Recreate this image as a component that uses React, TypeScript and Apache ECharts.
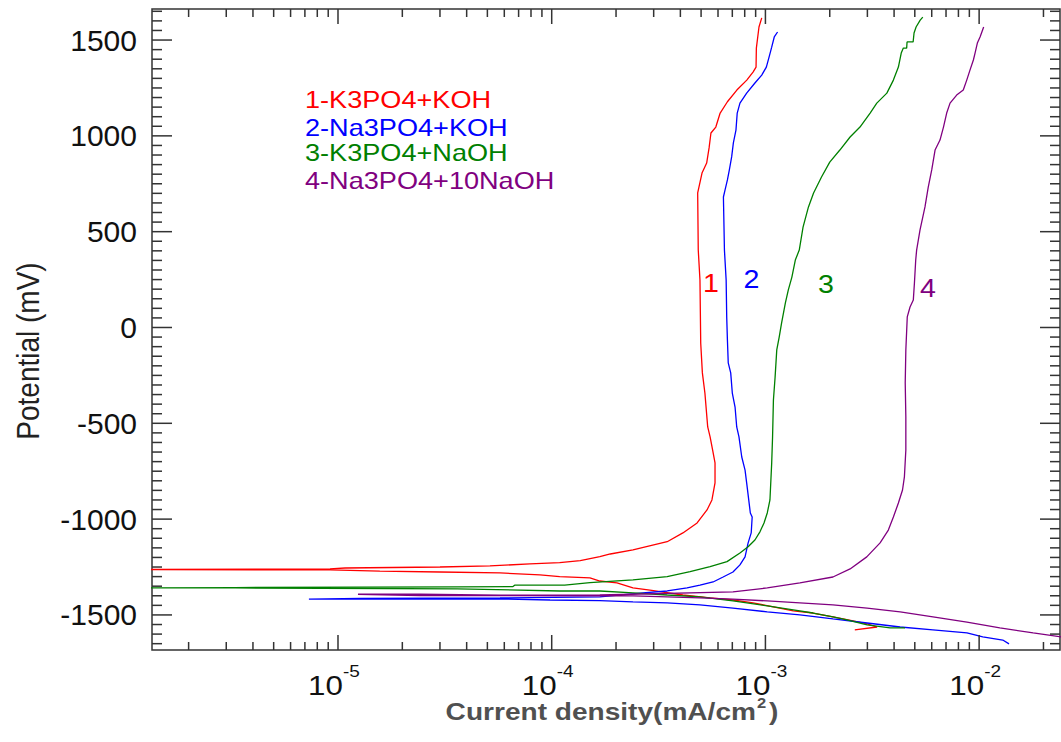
import React, { useEffect, useRef } from "react";
import * as echarts from "echarts";

type Pt = [number, number];

// [current density (mA/cm2), potential (mV)] in scan order
const curve1: Pt[] = [
  [2.62e-3, -1578], [3.33e-3, -1563], [2.99e-3, -1547], [2.57e-3, -1531], [2.07e-3, -1510],
  [1.67e-3, -1490], [1.35e-3, -1479], [1.09e-3, -1458], [8.75e-4, -1437], [7.05e-4, -1422],
  [5.51e-4, -1411], [4.11e-4, -1396], [2.88e-4, -1370], [2.4e-4, -1359], [2.02e-4, -1333],
  [1.68e-4, -1323], [1.51e-4, -1307], [1.09e-4, -1300], [8.81e-5, -1291], [5.73e-5, -1281],
  [3.0e-5, -1276], [1.57e-5, -1271], [9.18e-6, -1265], [1.3e-6, -1263], [9.18e-6, -1260],
  [1.08e-5, -1255], [3.0e-5, -1250], [5.14e-5, -1244], [7.91e-5, -1234], [1.09e-4, -1227],
  [1.36e-4, -1217], [1.68e-4, -1196], [1.88e-4, -1182], [2.4e-4, -1161], [3.47e-4, -1118],
  [4.11e-4, -1072], [4.79e-4, -1020], [5.33e-4, -952], [5.62e-4, -900], [5.81e-4, -811],
  [5.81e-4, -707], [5.66e-4, -639], [5.51e-4, -571], [5.37e-4, -519], [5.21e-4, -342],
  [5.07e-4, -237], [4.98e-4, -81], [4.94e-4, 248], [4.85e-4, 404], [4.82e-4, 702],
  [5.05e-4, 806], [5.31e-4, 858], [5.45e-4, 937], [5.56e-4, 1015], [5.86e-4, 1046],
  [6.14e-4, 1119], [6.64e-4, 1178], [7.35e-4, 1239], [8.18e-4, 1291], [8.75e-4, 1333],
  [9.04e-4, 1359], [9.07e-4, 1458], [9.33e-4, 1568], [9.61e-4, 1616],
];

const curve2: Pt[] = [
  [1.38e-2, -1651], [1.29e-2, -1631], [1.04e-2, -1615], [8.77e-3, -1594], [6.08e-3, -1578],
  [4.27e-3, -1563], [2.99e-3, -1542], [2.07e-3, -1521], [1.45e-3, -1500], [1.02e-3, -1484],
  [7.05e-4, -1464], [4.94e-4, -1448], [3.47e-4, -1437], [2.4e-4, -1432], [1.68e-4, -1425],
  [9.82e-5, -1422], [5.73e-5, -1417], [1.95e-5, -1417], [7.31e-6, -1417], [1.27e-5, -1414],
  [5.73e-5, -1411], [1.68e-4, -1406], [2.67e-4, -1385], [3.47e-4, -1375], [4.3e-4, -1359],
  [4.94e-4, -1344], [5.69e-4, -1328], [6.34e-4, -1302], [7.05e-4, -1276], [7.6e-4, -1239],
  [8.03e-4, -1197], [8.3e-4, -1124], [8.58e-4, -1072], [8.67e-4, -989], [8.5e-4, -968],
  [8.17e-4, -811], [8.03e-4, -744], [7.75e-4, -676], [7.52e-4, -571], [7.34e-4, -519],
  [7.21e-4, -415], [7.0e-4, -342], [6.88e-4, -237], [6.7e-4, -185], [6.64e-4, -65],
  [6.59e-4, 55], [6.55e-4, 248], [6.43e-4, 404], [6.36e-4, 681], [6.47e-4, 717],
  [6.64e-4, 770], [6.78e-4, 822], [6.95e-4, 890], [7.08e-4, 963], [7.28e-4, 1030],
  [7.38e-4, 1119], [7.6e-4, 1171], [8.17e-4, 1223], [8.93e-4, 1276], [9.61e-4, 1317],
  [1.01e-3, 1359], [1.04e-3, 1411], [1.07e-3, 1463], [1.1e-3, 1516], [1.14e-3, 1542],
];

const curve3: Pt[] = [
  [4.5e-3, -1568], [3.83e-3, -1568], [2.99e-3, -1552], [2.41e-3, -1526], [2.07e-3, -1510],
  [1.67e-3, -1490], [1.35e-3, -1474], [1.02e-3, -1453], [7.05e-4, -1427], [4.94e-4, -1406],
  [3.47e-4, -1396], [2.4e-4, -1385], [1.68e-4, -1375], [1.09e-4, -1375], [3.61e-5, -1364],
  [3.3e-6, -1359], [1.3e-6, -1359], [3.3e-6, -1357], [3.61e-5, -1354], [6.59e-5, -1352],
  [6.73e-5, -1344], [1.15e-4, -1344], [1.51e-4, -1331], [2.4e-4, -1317], [3.47e-4, -1300],
  [4.44e-4, -1274], [5.51e-4, -1248], [6.61e-4, -1222], [7.6e-4, -1177], [8.3e-4, -1144],
  [8.93e-4, -1109], [9.44e-4, -1065], [9.85e-4, -1020], [1.02e-3, -968], [1.05e-3, -900],
  [1.07e-3, -707], [1.08e-3, -571], [1.09e-3, -378], [1.11e-3, -258], [1.13e-3, -117],
  [1.16e-3, -50], [1.19e-3, 23], [1.24e-3, 128], [1.28e-3, 196], [1.33e-3, 263],
  [1.38e-3, 352], [1.44e-3, 404], [1.5e-3, 524], [1.59e-3, 629], [1.68e-3, 702],
  [1.83e-3, 785], [2.0e-3, 863], [2.23e-3, 926], [2.49e-3, 994], [2.77e-3, 1046],
  [3.09e-3, 1119], [3.32e-3, 1171], [3.7e-3, 1223], [3.97e-3, 1291], [4.19e-3, 1359],
  [4.32e-3, 1432], [4.42e-3, 1458], [4.58e-3, 1458], [4.6e-3, 1490], [4.91e-3, 1490],
  [4.96e-3, 1537], [5.07e-3, 1568], [5.3e-3, 1604], [5.45e-3, 1620],
];

const curve4: Pt[] = [
  [2.42e-2, -1615], [1.79e-2, -1594], [1.25e-2, -1568], [8.77e-3, -1537], [6.08e-3, -1510],
  [4.27e-3, -1484], [2.99e-3, -1464], [2.07e-3, -1448], [1.45e-3, -1437], [1.02e-3, -1427],
  [7.05e-4, -1417], [4.94e-4, -1411], [3.47e-4, -1406], [2.4e-4, -1401], [1.68e-4, -1401],
  [5.73e-5, -1399], [2.42e-5, -1399], [1.24e-5, -1392], [2.42e-5, -1392], [5.73e-5, -1397],
  [1.68e-4, -1396], [7.05e-4, -1380], [1.02e-3, -1359], [1.45e-3, -1333], [2.07e-3, -1302],
  [2.49e-3, -1260], [2.98e-3, -1197], [3.44e-3, -1124], [3.76e-3, -1057], [3.97e-3, -989],
  [4.19e-3, -916], [4.38e-3, -848], [4.47e-3, -780], [4.54e-3, -639], [4.54e-3, -467],
  [4.51e-3, -290], [4.54e-3, -117], [4.61e-3, 55], [4.75e-3, 107], [4.92e-3, 143],
  [4.98e-3, 232], [5.05e-3, 352], [5.1e-3, 404], [5.29e-3, 509], [5.58e-3, 629],
  [5.78e-3, 733], [6.0e-3, 822], [6.22e-3, 926], [6.56e-3, 978], [6.81e-3, 1046],
  [7.05e-3, 1119], [7.31e-3, 1171], [7.85e-3, 1213], [8.43e-3, 1239], [8.75e-3, 1291],
  [9.06e-3, 1343], [9.4e-3, 1396], [9.57e-3, 1432], [9.81e-3, 1484], [1.01e-2, 1516],
  [1.03e-2, 1542], [1.05e-2, 1568],
];

const curves = [curve1, curve2, curve3, curve4];
const seriesNames = ["1-K3PO4+KOH", "2-Na3PO4+KOH", "3-K3PO4+NaOH", "4-Na3PO4+10NaOH"];
const seriesTags = ["1", "2", "3", "4"];
const seriesColors = ["#ff0000", "#0000ff", "#008000", "#800080"];

const xMajorTicks = [1e-5, 1e-4, 1e-3, 1e-2];
const xTickExponents = ["-5", "-4", "-3", "-2"];
const xMinorMultipliers = [2, 3, 4, 5, 6, 7, 8, 9];
const xMinorDecades = [1e-6, 1e-5, 1e-4, 1e-3, 1e-2];
const yMajorTicks = [-1500, -1000, -500, 0, 500, 1000, 1500];
const yMinorStep = 50;

const X_MIN = 1.348e-6;
const X_MAX = 0.0239;
const Y_MIN = -1683;
const Y_MAX = 1662;

const xAxisTitle = "Current density(mA/cm";
const xAxisTitleSup = "2";
const yAxisTitle = "Potential (mV)";

const FONT = "'Liberation Sans', Arial, Helvetica, sans-serif";
const AXIS_COLOR = "#333333";

function buildTickData(): number[][] {
  const d: number[][] = [];
  xMajorTicks.forEach((v, i) => d.push([v, 0, 0, i]));
  xMinorDecades.forEach((dec) =>
    xMinorMultipliers.forEach((m) => {
      const v = m * dec;
      if (v > X_MIN && v < X_MAX) d.push([v, 0, 1, -1]);
    })
  );
  yMajorTicks.forEach((v) => d.push([1e-4, v, 2, -1]));
  for (let v = Math.ceil(Y_MIN / yMinorStep) * yMinorStep; v <= Y_MAX; v += yMinorStep) {
    if (v % 500 !== 0) d.push([1e-4, v, 3, -1]);
  }
  return d;
}

function textStyle(text: string, font: string, fill: string, align: string, valign: string) {
  return {
    text,
    font,
    fill,
    align,
    textAlign: align,
    verticalAlign: valign,
    textVerticalAlign: valign,
  };
}

export default function App() {
  const ref = useRef<HTMLDivElement | null>(null);

  useEffect(() => {
    if (!ref.current) return;
    const chart = echarts.init(ref.current, null, { renderer: "svg" });

    const tickData = buildTickData();

    const renderTicks = (params: any, api: any) => {
      const kind = api.value(2);
      const cs = params.coordSys;
      const left = cs.x;
      const right = cs.x + cs.width;
      const top = cs.y;
      const bottom = cs.y + cs.height;
      const ls = { stroke: AXIS_COLOR, lineWidth: 1.5 };
      const children: any[] = [];
      if (kind === 0 || kind === 1) {
        const px = api.coord([api.value(0), api.value(1)])[0];
        const len = kind === 0 ? 15 : 8;
        children.push({ type: "line", shape: { x1: px, y1: bottom, x2: px, y2: bottom - len }, style: ls });
        children.push({ type: "line", shape: { x1: px, y1: top, x2: px, y2: top + len }, style: ls });
        if (kind === 0) {
          const idx = api.value(3);
          children.push({
            type: "text",
            x: px + 5,
            y: bottom + 35,
            scaleX: 1.12,
            style: textStyle("10", `28px ${FONT}`, "#111111", "right", "middle"),
          });
          children.push({
            type: "text",
            x: px + 5,
            y: bottom + 21,
            scaleX: 1.12,
            style: textStyle(xTickExponents[idx], `17px ${FONT}`, "#111111", "left", "middle"),
          });
        }
      } else {
        const py = api.coord([api.value(0), api.value(1)])[1];
        const len = kind === 2 ? 20 : 10;
        children.push({ type: "line", shape: { x1: left, y1: py, x2: left + len, y2: py }, style: ls });
        children.push({ type: "line", shape: { x1: right, y1: py, x2: right - len, y2: py }, style: ls });
        if (kind === 2) {
          children.push({
            type: "text",
            x: left - 15,
            y: py,
            style: textStyle(String(api.value(1)), `30px ${FONT}`, "#111111", "right", "middle"),
          });
        }
      }
      return { type: "group", children };
    };

    const legendY = [100, 128, 153, 180.5];
    const tagPos: Pt[] = [[711, 283], [751.5, 279], [826, 283.5], [928, 288]];

    const graphicElements: any[] = [];
    seriesNames.forEach((name, i) => {
      graphicElements.push({
        type: "text",
        x: 305,
        y: legendY[i],
        scaleX: 1.13,
        silent: true,
        style: textStyle(name, `24px ${FONT}`, seriesColors[i], "left", "middle"),
      });
      graphicElements.push({
        type: "text",
        x: tagPos[i][0],
        y: tagPos[i][1],
        scaleX: 1.1,
        silent: true,
        style: textStyle(seriesTags[i], `26px ${FONT}`, seriesColors[i], "center", "middle"),
      });
    });
    graphicElements.push({
      type: "text",
      x: 756,
      y: 712,
      scaleX: 1.17,
      silent: true,
      style: textStyle(xAxisTitle, `bold 24px ${FONT}`, "#505050", "right", "middle"),
    });
    graphicElements.push({
      type: "text",
      x: 757,
      y: 703,
      scaleX: 1.1,
      silent: true,
      style: textStyle(xAxisTitleSup, `bold 15px ${FONT}`, "#505050", "left", "middle"),
    });
    graphicElements.push({
      type: "text",
      x: 769,
      y: 712,
      scaleX: 1.17,
      silent: true,
      style: textStyle(")", `bold 24px ${FONT}`, "#505050", "left", "middle"),
    });
    graphicElements.push({
      type: "text",
      x: 28,
      y: 351,
      rotation: Math.PI / 2,
      scaleY: 1.15,
      silent: true,
      style: textStyle(yAxisTitle, `28px ${FONT}`, "#222222", "center", "middle"),
    });

    const option: any = {
      animation: false,
      backgroundColor: "#ffffff",
      grid: {
        left: 152,
        right: 1,
        top: 9,
        bottom: 92,
        show: true,
        borderColor: AXIS_COLOR,
        borderWidth: 1.5,
        backgroundColor: "transparent",
        containLabel: false,
        outerBoundsMode: "none",
      },
      xAxis: {
        type: "log",
        logBase: 10,
        min: X_MIN,
        max: X_MAX,
        axisLine: { show: false },
        axisTick: { show: false },
        axisLabel: { show: false },
        splitLine: { show: false },
        minorTick: { show: false },
        minorSplitLine: { show: false },
      },
      yAxis: {
        type: "value",
        min: Y_MIN,
        max: Y_MAX,
        axisLine: { show: false },
        axisTick: { show: false },
        axisLabel: { show: false },
        splitLine: { show: false },
      },
      series: [
        ...curves.map((c, i) => ({
          name: seriesNames[i],
          type: "line",
          data: c,
          showSymbol: false,
          symbol: "none",
          silent: true,
          clip: true,
          lineStyle: { color: seriesColors[i], width: 1.3 },
          itemStyle: { color: seriesColors[i] },
          emphasis: { disabled: true },
          z: 3,
        })),
        {
          type: "custom",
          name: "axisTicks",
          coordinateSystem: "cartesian2d",
          dimensions: ["x", "y", "kind", "idx"],
          encode: { x: 0, y: 1 },
          data: tickData,
          renderItem: renderTicks,
          clip: false,
          silent: true,
          z: 5,
        },
      ],
      graphic: { elements: graphicElements },
    };

    chart.setOption(option);
    return () => {
      chart.dispose();
    };
  }, []);

  return (
    <div
      ref={ref}
      style={{ position: "absolute", left: 0, top: 0, width: 1061, height: 742, background: "#fff" }}
    />
  );
}
